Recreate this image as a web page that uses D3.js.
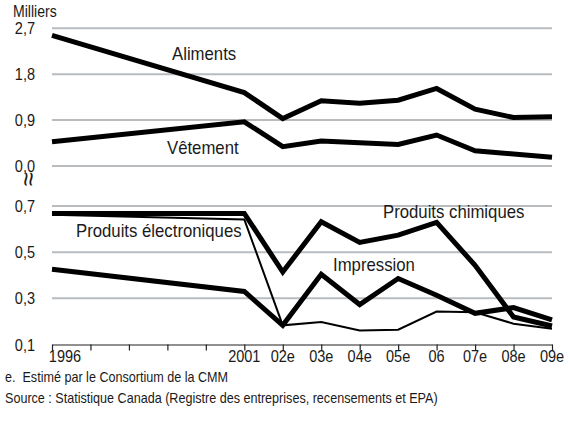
<!DOCTYPE html>
<html><head><meta charset="utf-8">
<script src="https://cdn.jsdelivr.net/npm/d3@7"></script>
<style>
body{margin:0;background:#fff}
text{font-family:"Liberation Sans",Arial,sans-serif;fill:#1a1a1a}
</style>
</head><body>
<svg id="c" width="570" height="422"></svg>
<script>
const years = ["1996","1997","1998","1999","2000","2001","2002","2003","2004","2005","2006","2007","2008","2009"];
const xLabels = ["1996","","","","","2001","02e","03e","04e","05e","06","07e","08e","09e"];
const topTicks = [0, 0.9, 1.8, 2.7];
const bottomTicks = [0.1, 0.3, 0.5, 0.7];
const aliments = [2.56, null, null, null, null, 1.44, 0.93, 1.28, 1.23, 1.29, 1.52, 1.115, 0.95, 0.965];
const vetement = [0.476, null, null, null, null, 0.867, 0.378, 0.49, 0.456, 0.424, 0.607, 0.30, 0.235, 0.17];
const chimiques = [0.668, null, null, null, null, 0.668, 0.414, 0.632, 0.542, 0.574, 0.629, 0.443, 0.219, 0.18];
const electroniques = [0.662, null, null, null, null, 0.642, 0.183, 0.197, 0.161, 0.164, 0.243, 0.24, 0.19, 0.168];
const impression = [0.426, null, null, null, null, 0.33, 0.183, 0.404, 0.273, 0.386, 0.313, 0.235, 0.26, 0.207];

const svg = d3.select("#c");
const x = d3.scalePoint().domain(years).range([52, 552]);
const yTop = d3.scaleLinear().domain([0, 2.7]).range([166, 28.3]);
const yBot = d3.scaleLinear().domain([0.1, 0.7]).range([344.5, 206]);

function txt(str, xx, yy, size, sx, anchor) {
  return svg.append("text")
    .attr("transform", `translate(${xx},${yy}) scale(${sx},1)`)
    .attr("font-size", size).attr("text-anchor", anchor || "start")
    .text(str);
}
const fmt = v => v.toFixed(1).replace(".", ",");

// gridlines + tick labels
const grid = "#b9bcbf";
topTicks.forEach(v => {
  svg.append("line").attr("x1", 52).attr("x2", 552).attr("y1", yTop(v)).attr("y2", yTop(v))
    .attr("stroke", grid).attr("stroke-width", 2);
  txt(fmt(v), 35, yTop(v) + 6, 16.5, 0.88, "end");
});
bottomTicks.forEach(v => {
  if (v > 0.1) svg.append("line").attr("x1", 52).attr("x2", 552).attr("y1", yBot(v)).attr("y2", yBot(v))
    .attr("stroke", grid).attr("stroke-width", 2);
  txt(fmt(v), 35, yBot(v) + 6, 16.5, 0.88, "end");
});

// x axis (bottom)
const xAxis = d3.axisBottom(x).tickSize(6).tickSizeOuter(0).tickFormat(() => "");
const ax = svg.append("g").attr("transform", `translate(0,${yBot(0.1)})`).call(xAxis);
ax.select(".domain").attr("stroke", "#222").attr("stroke-width", 1.2);
ax.selectAll(".tick line").attr("stroke", "#222").attr("stroke-width", 1.2);
xLabels.forEach((l, i) => { if (l) txt(l, x(years[i]) + (i === 0 ? 13 : 0), 362, 16.5, 0.88, "middle"); });

// lines
function draw(vals, yS, w) {
  const pts = years.map((y, i) => [y, vals[i]]).filter(d => d[1] !== null);
  svg.append("path").datum(pts)
    .attr("d", d3.line().x(d => x(d[0])).y(d => yS(d[1])))
    .attr("fill", "none").attr("stroke", "#000").attr("stroke-width", w)
    .attr("stroke-linejoin", "miter");
}
draw(aliments, yTop, 5);
draw(vetement, yTop, 5);
draw(electroniques, yBot, 2);
draw(impression, yBot, 5);
draw(chimiques, yBot, 5);

// series labels
const LS = 18, LX = 0.93;
txt("Aliments", 172, 60, LS, LX);
txt("Vêtement", 167, 154, LS, LX);
txt("Produits chimiques", 383, 218, LS, LX);
txt("Produits électroniques", 76, 237, LS, LX);
txt("Impression", 333, 271, LS, LX);

// axis unit label
txt("Milliers", 13, 17, 16, 0.88);
// axis break symbol
svg.append("text").attr("transform", "translate(29,179) rotate(90)")
  .attr("font-size", 26).attr("text-anchor", "middle").attr("dominant-baseline", "central").text("≈");

// footnotes
txt("e.\u00a0\u00a0Estimé par le Consortium de la CMM", 5, 382, 14, 0.9);
txt("Source : Statistique Canada (Registre des entreprises, recensements et EPA)", 5, 403, 14, 0.9);
</script>
</body></html>
